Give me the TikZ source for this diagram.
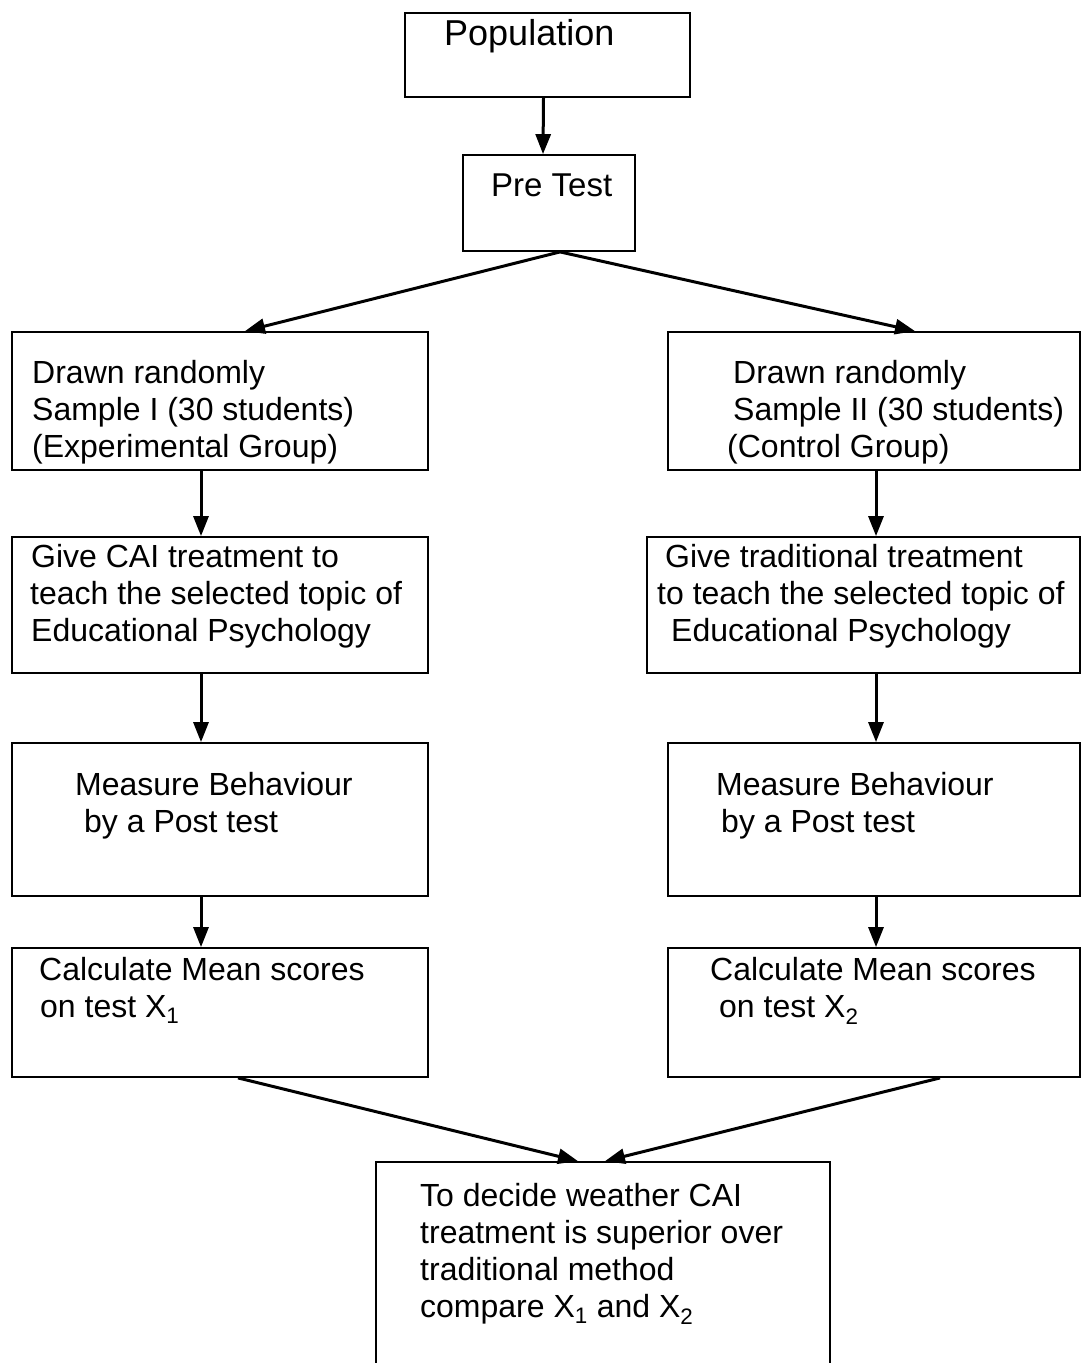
\documentclass[tikz,border=0pt]{standalone}
\usepackage{fontspec}
\setmainfont{Liberation Sans}
\usepackage{tikz}
\usetikzlibrary{arrows.meta, positioning, calc}

\begin{document}
\begin{tikzpicture}[
    x=1pt, y=-1pt,
    stepbox/.style={rectangle, draw=black, line width=1.8pt, inner sep=0pt},
    steptext/.style={anchor=base west, inner sep=0pt, font=\fontsize{32}{37}\selectfont},
    steparrow/.style={-{Triangle[length=20pt, width=15pt]}, line width=3pt}
]
\path[use as bounding box, clip] (0,0) rectangle (1082,1363);

% columns of the vertical arrows
\coordinate (colA) at (201,0);
\coordinate (colB) at (876,0);

% Top boxes
\node[stepbox, minimum width=285pt, minimum height=84pt] (pop) at (547.5,55) {};
\node[steptext, font=\fontsize{36}{40}\selectfont] (popT) at (444,45) {Population};
\node[stepbox, minimum width=172pt, minimum height=96pt] (pretest) at (549,203) {};
\node[steptext, font=\fontsize{33}{37}\selectfont] (pretestT) at (491,196) {Pre Test};

% Left column
\node[stepbox, minimum width=416pt, minimum height=138pt] (sampA) at (220,401) {};
\node[steptext] (sampA1) at (32,383) {Drawn randomly};
\node[steptext] (sampA2) at (32,420) {Sample I (30 students)};
\node[steptext] (sampA3) at (32,457) {(Experimental Group)};

\node[stepbox, minimum width=416pt, minimum height=136pt] (treatA) at (220,605) {};
\node[steptext] (treatA1) at (31,567) {Give CAI treatment to};
\node[steptext] (treatA2) at (30,604) {teach the selected topic of};
\node[steptext] (treatA3) at (31,641) {Educational Psychology};

\node[stepbox, minimum width=416pt, minimum height=153pt] (postA) at (220,819.5) {};
\node[steptext] (postA1) at (75,795) {Measure Behaviour};
\node[steptext] (postA2) at (84,832) {by a Post test};

\node[stepbox, minimum width=416pt, minimum height=129pt] (meanA) at (220,1012.5) {};
\node[steptext] (meanA1) at (39,980) {Calculate Mean scores};
\node[steptext] (meanA2) at (40,1017) {on test X\textsubscript{1}};

% Right column
\node[stepbox, minimum width=412pt, minimum height=138pt] (sampB) at (874,401) {};
\node[steptext] (sampB1) at (733,383) {Drawn randomly};
\node[steptext] (sampB2) at (733,420) {Sample II (30 students)};
\node[steptext] (sampB3) at (727,457) {(Control Group)};

\node[stepbox, minimum width=433pt, minimum height=136pt] (treatB) at (863.5,605) {};
\node[steptext] (treatB1) at (665,567) {Give traditional treatment};
\node[steptext] (treatB2) at (657,604) {to teach the selected topic of};
\node[steptext] (treatB3) at (671,641) {Educational Psychology};

\node[stepbox, minimum width=412pt, minimum height=153pt] (postB) at (874,819.5) {};
\node[steptext] (postB1) at (716,795) {Measure Behaviour};
\node[steptext] (postB2) at (721,832) {by a Post test};

\node[stepbox, minimum width=412pt, minimum height=129pt] (meanB) at (874,1012.5) {};
\node[steptext] (meanB1) at (710,980) {Calculate Mean scores};
\node[steptext] (meanB2) at (719,1017) {on test X\textsubscript{2}};

% Decision box (runs off the page)
\node[stepbox, minimum width=454pt, minimum height=238pt] (decide) at (603,1281) {};
\node[steptext] (decide1) at (420,1206) {To decide weather CAI};
\node[steptext] (decide2) at (420,1243) {treatment is superior over};
\node[steptext] (decide3) at (420,1280) {traditional method};
\node[steptext] (decide4) at (420,1317) {compare X\textsubscript{1} and X\textsubscript{2}};

% Arrows
\draw[steparrow] ([xshift=-4pt]pop.south) -- ([xshift=-6pt]pretest.north);
\draw[steparrow] ([xshift=11pt]pretest.south) -- ([xshift=25pt]sampA.north);
\draw[steparrow] ([xshift=11pt]pretest.south) -- ([xshift=41pt]sampB.north);

\draw[steparrow] (sampA.south -| colA) -- (treatA.north -| colA);
\draw[steparrow] (treatA.south -| colA) -- (postA.north -| colA);
\draw[steparrow] (postA.south -| colA) -- (meanA.north -| colA);
\draw[steparrow] (sampB.south -| colB) -- (treatB.north -| colB);
\draw[steparrow] (treatB.south -| colB) -- (postB.north -| colB);
\draw[steparrow] (postB.south -| colB) -- (meanB.north -| colB);

\draw[steparrow] ([xshift=18pt]meanA.south) -- ([xshift=-25pt]decide.north);
\draw[steparrow] ([xshift=66pt]meanB.south) -- ([xshift=2pt]decide.north);

\end{tikzpicture}
\end{document}
